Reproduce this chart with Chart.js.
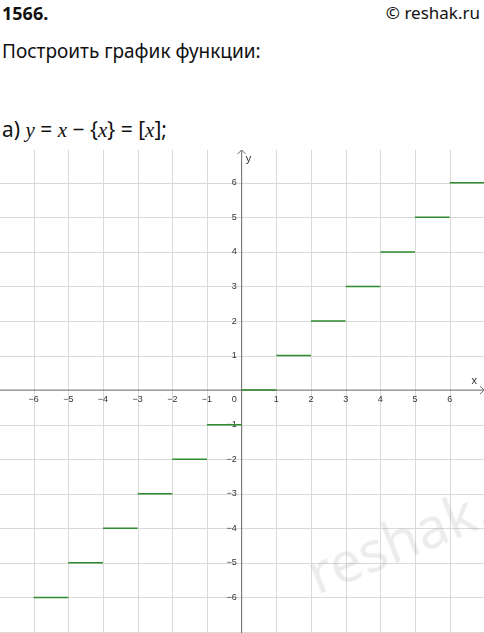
<!DOCTYPE html>
<html><head><meta charset="utf-8">
<script src="https://cdn.jsdelivr.net/npm/chart.js@4"></script>
<style>
body{margin:0;width:484px;height:633px;overflow:hidden;background:#fff;font-family:"Noto Sans",sans-serif;color:#111;position:relative}
.t{position:absolute;white-space:nowrap}
.m{font-family:"Liberation Serif",serif;font-style:italic}
#wrap{position:absolute;left:0;top:150px;width:484px;height:483px}
</style></head><body>
<div class="t" style="left:2px;top:1px;font-size:18px;font-weight:bold">1566.</div>
<div class="t" style="right:4px;top:1px;font-size:17px">© reshak.ru</div>
<div class="t" style="left:2px;top:38px;font-size:19px">Построить график функции:</div>
<div class="t" style="left:2px;top:115px;font-size:21px">а) <span class="m">y</span> = <span class="m">x</span> − {<span class="m">x</span>} = [<span class="m">x</span>];</div>
<div id="wrap"><canvas id="c"></canvas></div>
<div class="t" style="left:300px;top:490px;font-size:56px;color:rgba(150,150,150,0.18);transform:rotate(-22deg)">reshak.ru</div>
<script>
const stepStarts = [-6, -5, -4, -3, -2, -1, 0, 1, 2, 3, 4, 5, 6];
const stepValues = [-6, -5, -4, -3, -2, -1, 0, 1, 2, 3, 4, 5, 6];
const xTicks = [-6, -5, -4, -3, -2, -1, 1, 2, 3, 4, 5, 6];
const yTicks = [-6, -5, -4, -3, -2, -1, 1, 2, 3, 4, 5, 6];

const points = [];
stepStarts.forEach((s, i) => {
    points.push({ x: s, y: stepValues[i] }, { x: s + 1, y: stepValues[i] }, { x: s + 1, y: null });
});

const axesPlugin = {
    id: 'axes',
    beforeDatasetsDraw(chart) {
        const { ctx, chartArea: a, scales: { x, y } } = chart;
        ctx.save();
        ctx.strokeStyle = '#d9d9d9';
        ctx.lineWidth = 1;
        for (let k = -7; k <= 7; k++) {
            if (k === 0) continue;
            const px = Math.round(x.getPixelForValue(k)) + 0.5;
            if (px > a.left && px < a.right) { ctx.beginPath(); ctx.moveTo(px, a.top); ctx.lineTo(px, a.bottom); ctx.stroke(); }
            const py = Math.round(y.getPixelForValue(k)) + 0.5;
            if (py > a.top && py < a.bottom) { ctx.beginPath(); ctx.moveTo(a.left, py); ctx.lineTo(a.right, py); ctx.stroke(); }
        }
        const ox = x.getPixelForValue(0), oy = y.getPixelForValue(0);
        ctx.strokeStyle = '#666';
        ctx.beginPath(); ctx.moveTo(a.left, oy); ctx.lineTo(a.right, oy); ctx.stroke();
        ctx.beginPath(); ctx.moveTo(ox, a.bottom); ctx.lineTo(ox, a.top); ctx.stroke();
        ctx.beginPath(); ctx.moveTo(ox - 4, a.top + 4); ctx.lineTo(ox, a.top); ctx.lineTo(ox + 4, a.top + 4); ctx.stroke();
        ctx.beginPath(); ctx.moveTo(a.right - 4, oy - 4); ctx.lineTo(a.right, oy); ctx.lineTo(a.right - 4, oy + 4); ctx.stroke();
        ctx.fillStyle = '#333';
        ctx.font = '9px "Liberation Sans", sans-serif';
        ctx.textAlign = 'center'; ctx.textBaseline = 'top';
        xTicks.forEach(v => ctx.fillText(v < 0 ? '\u2212' + (-v) : String(v), x.getPixelForValue(v), oy + 5));
        ctx.textAlign = 'right'; ctx.textBaseline = 'middle';
        yTicks.forEach(v => ctx.fillText(v < 0 ? '\u2212' + (-v) : String(v), ox - 5, y.getPixelForValue(v)));
        ctx.fillText('0', ox - 5, oy + 9);
        ctx.font = '11px "Liberation Sans", sans-serif';
        ctx.textAlign = 'left';
        ctx.fillText('y', ox + 4, a.top + 9);
        ctx.textAlign = 'right';
        ctx.fillText('x', a.right - 7, oy - 9);
        ctx.restore();
    }
};

new Chart(document.getElementById('c'), {
    type: 'line',
    data: { datasets: [{ data: points, borderColor: '#2e8b2e', borderWidth: 1.5, pointRadius: 0, spanGaps: false, tension: 0 }] },
    options: {
        responsive: true, maintainAspectRatio: false, animation: false,
        layout: { padding: 0 },
        plugins: { legend: { display: false }, tooltip: { enabled: false } },
        scales: {
            x: { type: 'linear', min: -6.97, max: 6.99, display: false },
            y: { type: 'linear', min: -7.03, max: 6.95, display: false }
        }
    },
    plugins: [axesPlugin]
});
</script>
</body></html>
